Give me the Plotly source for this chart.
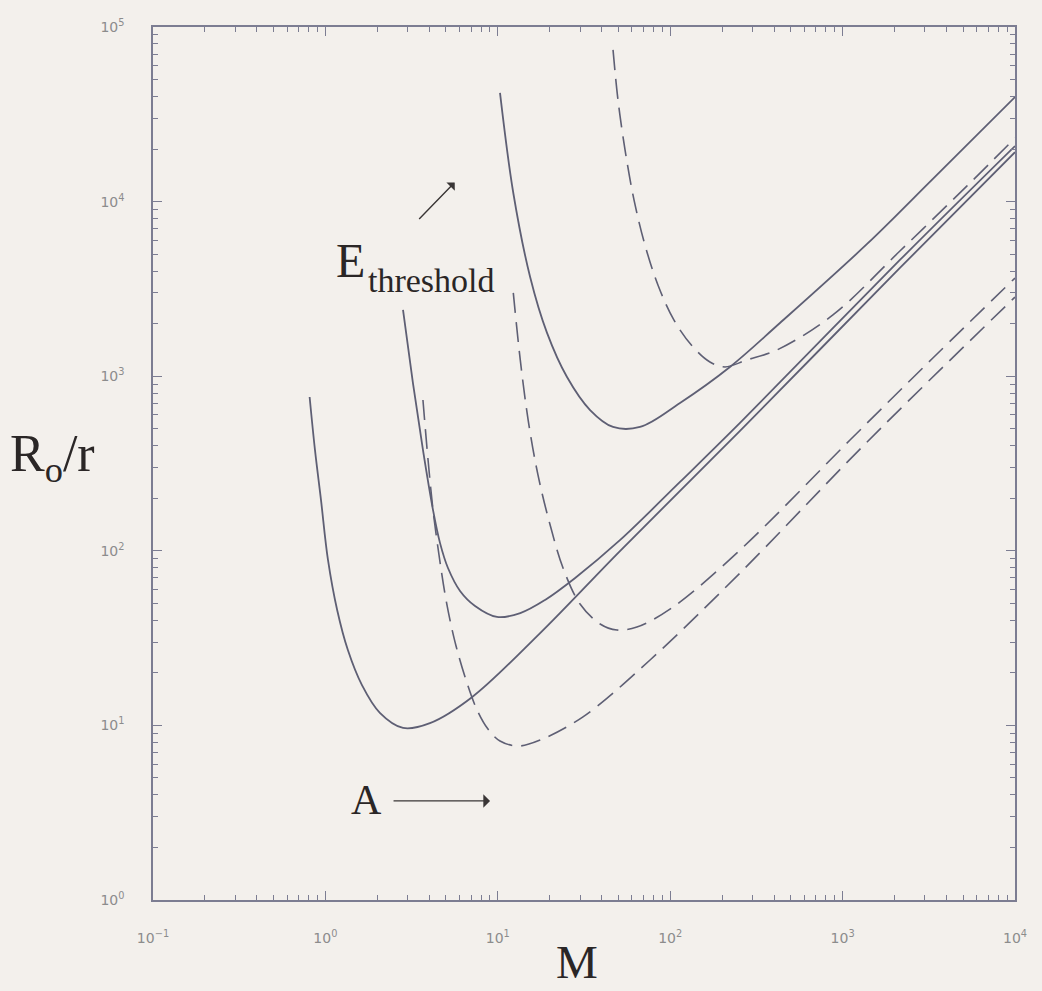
import plotly.graph_objects as go

# ---- data (M, R_o/r) ----
s1_M = [0.81, 0.870, 0.943, 1.035, 1.17, 1.35, 1.63, 2.07, 2.82, 4.04, 7.08, 17.6, 51.1, 254, 2150, 10000]
s1_R = [760, 378, 195, 88.6, 45.8, 27.0, 17.0, 11.8, 9.67, 10.3, 14.5, 33.8, 99.7, 486, 4170, 19200]

s2_M = [2.82, 3.22, 3.68, 4.21, 4.62, 5.14, 6.04, 7.38, 9.89, 13.5, 18.8, 28.1, 51.1, 114, 254, 2150, 10000]
s2_R = [2395, 914, 378, 171, 111, 79.7, 58.9, 48.3, 41.8, 44.0, 52.3, 69.9, 115, 248, 540, 4630, 20800]

s3_M = [10.3, 12.3, 15.4, 19.3, 25.2, 34.3, 46.6, 66.8, 114, 222, 433, 1387, 3340, 10000]
s3_R = [41900, 11200, 3700, 1770, 989, 640, 512, 512, 703, 1130, 2017, 5720, 13500, 39700]

d1_M = [3.68, 3.94, 4.21, 4.56, 5.01, 5.65, 6.54, 7.57, 8.77, 10.3, 13.1, 17.6, 31.2, 76.4, 254, 1387, 10000]
d1_R = [731, 331, 171, 94.6, 52.3, 30.0, 18.2, 12.3, 9.53, 8.14, 7.62, 8.25, 11.2, 23.7, 74.6, 420, 2840]

d2_M = [12.3, 13.5, 15.0, 17.1, 20.1, 23.9, 30.0, 39.2, 49.1, 64.1, 104, 254, 1104, 3340, 10000]
d2_R = [3000, 1240, 561, 272, 141, 79.7, 49.6, 38.1, 35.2, 36.6, 47.7, 101, 431, 1271, 3650]

d3_M = [46.6, 49.8, 54.7, 61.7, 71.4, 84.9, 105, 134, 170, 208, 279, 416, 879, 2150, 5270, 10000]
d3_R = [73900, 38200, 19800, 10200, 5640, 3330, 2100, 1490, 1206, 1130, 1240, 1413, 2243, 5210, 12300, 23100]

tick_vals_x = [0.1, 1, 10, 100, 1000, 10000]
tick_text_x = ["10<sup>−1</sup>", "10<sup>0</sup>", "10<sup>1</sup>", "10<sup>2</sup>", "10<sup>3</sup>", "10<sup>4</sup>"]
tick_vals_y = [1, 10, 100, 1000, 10000, 100000]
tick_text_y = ["10<sup>0</sup>", "10<sup>1</sup>", "10<sup>2</sup>", "10<sup>3</sup>", "10<sup>4</sup>", "10<sup>5</sup>"]

solid_series = [(s1_M, s1_R), (s2_M, s2_R), (s3_M, s3_R)]
dashed_series = [(d1_M, d1_R), (d2_M, d2_R), (d3_M, d3_R)]

line_col = "#5e5f74"
axis_col = "#7c7d92"
bg = "#f3f0ec"
text_col = "#2a2626"

fig = go.Figure()
for m, r in solid_series:
    fig.add_trace(go.Scatter(x=m, y=r, mode="lines",
                             line=dict(color=line_col, width=1.8, shape="spline", smoothing=1.0),
                             showlegend=False, hoverinfo="skip"))
for m, r in dashed_series:
    fig.add_trace(go.Scatter(x=m, y=r, mode="lines",
                             line=dict(color=line_col, width=1.6, dash="20px,9px", shape="spline", smoothing=1.0),
                             showlegend=False, hoverinfo="skip"))


def minor_vals(lo, hi):
    out = []
    for e in range(lo, hi):
        for k in range(2, 10):
            out.append(k * 10.0 ** e)
    return out


def axis_style(tv, tt, minors, standoff):
    return dict(
        type="log", tickmode="array", tickvals=tv, ticktext=tt,
        showgrid=False, zeroline=False,
        showline=True, linecolor=axis_col, linewidth=1.5, mirror="allticks",
        ticks="inside", ticklen=9, tickwidth=1.2, tickcolor=axis_col,
        minor=dict(ticks="inside", tickmode="array", tickvals=minors, ticklen=5, tickwidth=1,
                   tickcolor=axis_col, showgrid=False),
        tickfont=dict(family="DejaVu Sans", size=14, color="#8c8c8c"),
        ticklabelstandoff=standoff,
    )


fig.update_layout(
    width=1042, height=991,
    margin=dict(l=153, r=27, t=27, b=91),
    paper_bgcolor=bg, plot_bgcolor=bg,
    xaxis=dict(range=[-1, 4], **axis_style(tick_vals_x, tick_text_x, minor_vals(-1, 4), 24)),
    yaxis=dict(range=[0, 5], **axis_style(tick_vals_y, tick_text_y, minor_vals(0, 5), 24)),
    showlegend=False,
)

serif = "Liberation Serif"
annots = [
    dict(text="M", x=0.492, y=-0.1035, xref="paper", yref="paper", xanchor="center", yanchor="bottom",
         font=dict(family=serif, size=47, color=text_col), showarrow=False),
    dict(text="R<sub>o</sub>/r", x=-0.065, y=0.507, xref="paper", yref="paper", xanchor="right", yanchor="middle",
         font=dict(family=serif, size=52, color=text_col), showarrow=False),
    dict(text="E", x=0.210, y=0.732, xref="paper", yref="paper", xanchor="left", yanchor="middle",
         font=dict(family=serif, size=48, color=text_col), showarrow=False),
    dict(text="threshold", x=0.247, y=0.710, xref="paper", yref="paper", xanchor="left", yanchor="middle",
         font=dict(family=serif, size=34, color=text_col), showarrow=False),
    dict(text="A", x=0.248, y=0.1145, xref="paper", yref="paper", xanchor="center", yanchor="middle",
         font=dict(family=serif, size=42, color=text_col), showarrow=False),
    # horizontal arrow after A
    dict(text="", x=0.391, y=0.1135, xref="paper", yref="paper", showarrow=True,
         ax=-98, ay=0, arrowhead=1, arrowsize=1.6, arrowwidth=1.4, arrowcolor="#3a3636"),
    # small diagonal arrow above E_threshold
    dict(text="", x=0.350, y=0.822, xref="paper", yref="paper", showarrow=True,
         ax=-37, ay=38, arrowhead=1, arrowsize=1.4, arrowwidth=1.4, arrowcolor="#3a3636"),
]
fig.update_layout(annotations=annots)

fig.write_html("out.html",
               config={"displayModeBar": False},
               post_script="document.body.style.margin='0';document.body.style.background='#f3f0ec';")
